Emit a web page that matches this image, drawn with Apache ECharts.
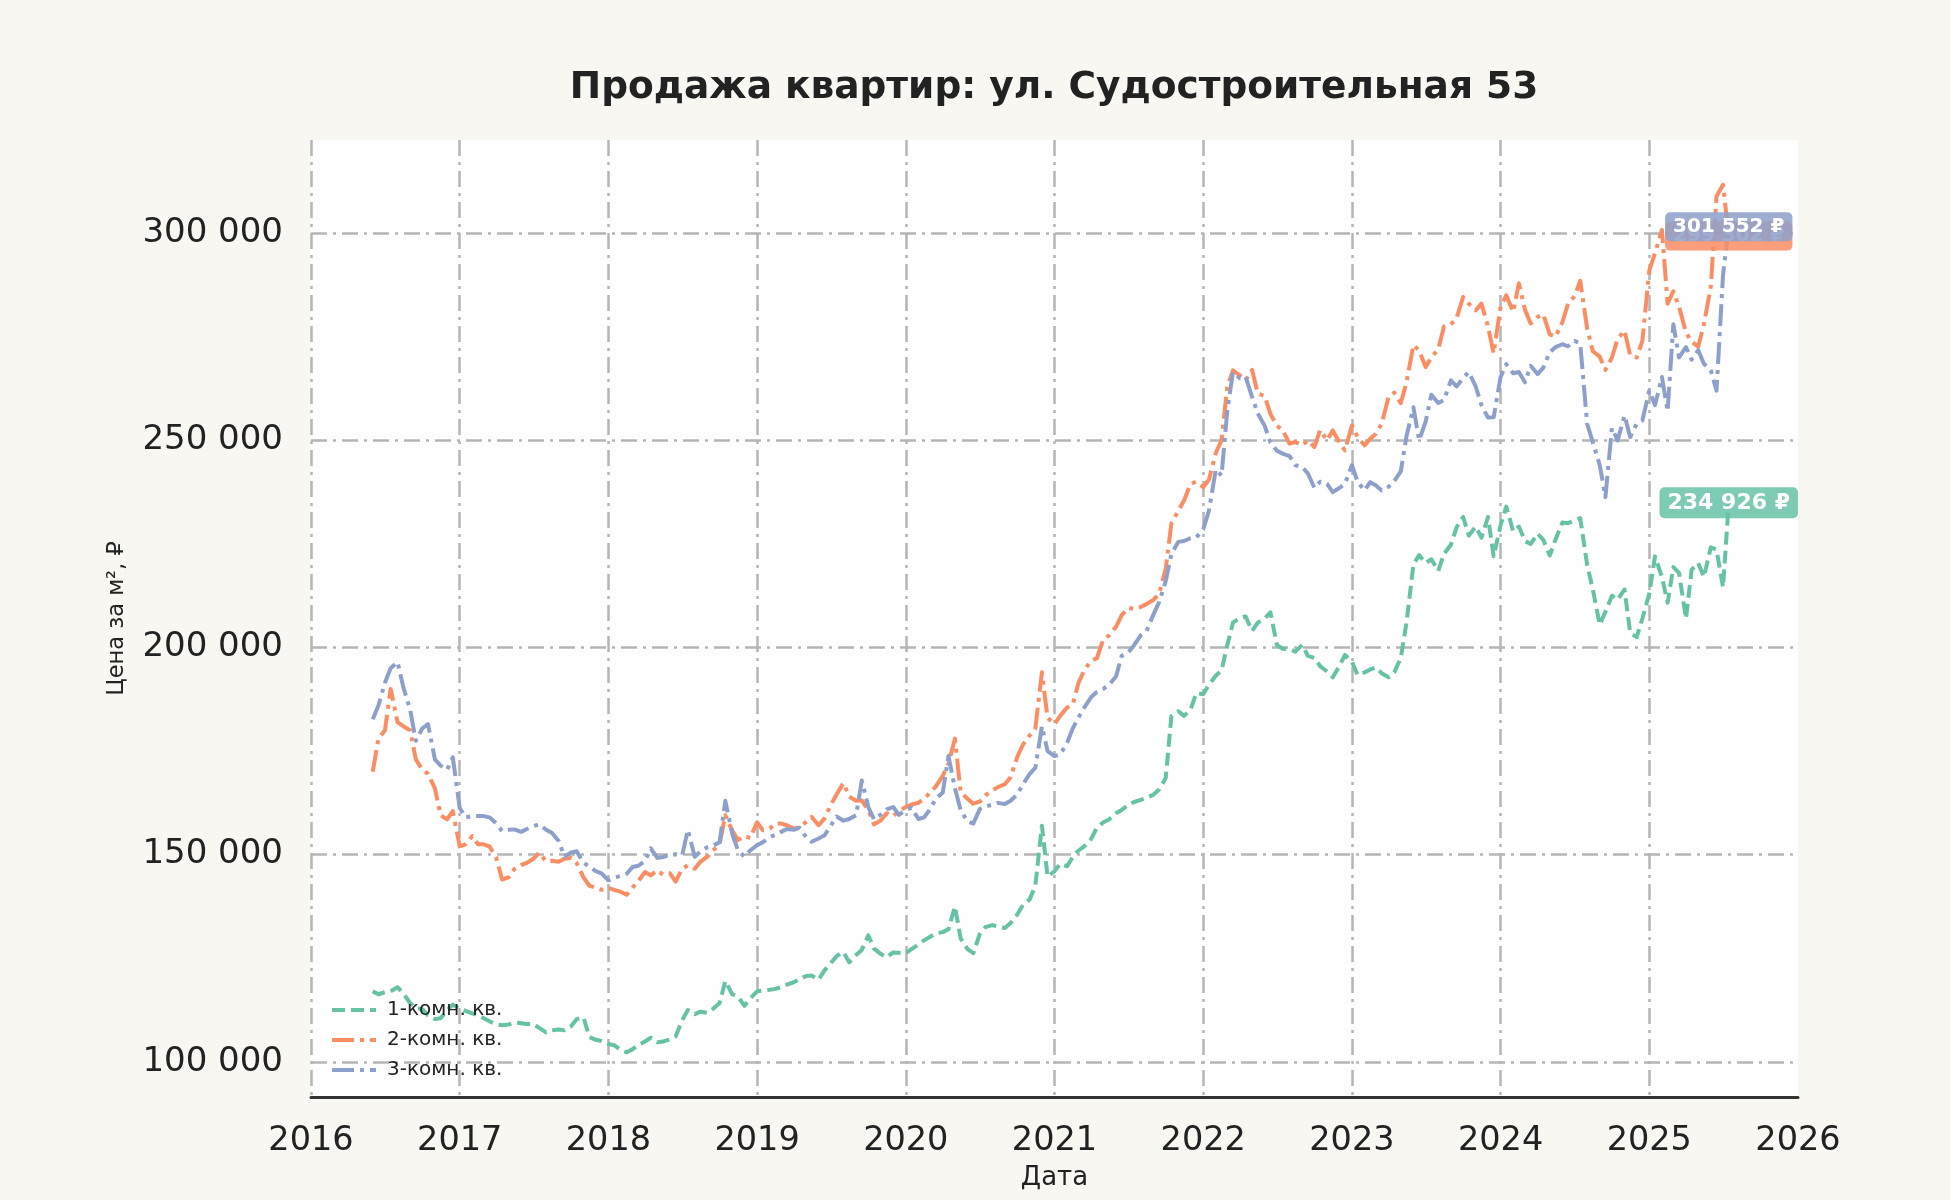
<!DOCTYPE html>
<html>
<head>
<meta charset="utf-8">
<title>Продажа квартир: ул. Судостроительная 53</title>
<script src="https://cdn.jsdelivr.net/npm/echarts@6/dist/echarts.min.js"></script>
<style>
  html, body { margin: 0; padding: 0; background: #f8f7f2; }
  #chart { width: 1950px; height: 1200px; }
</style>
</head>
<body>
<div id="chart"></div>
<script>
// даты наблюдений: 1-е и 15-е число месяца, июнь 2016 - июль 2025
var dates = [];
for (var y = 2016; y <= 2025; y++) {
  for (var m = 1; m <= 12; m++) {
    if ((y === 2016 && m < 6) || (y === 2025 && m > 7)) continue;
    var mm = (m < 10 ? '0' : '') + m;
    dates.push(y + '-' + mm + '-01', y + '-' + mm + '-15');
  }
}

var seriesNames = ['1-комн. кв.', '2-комн. кв.', '3-комн. кв.'];
var yearTicks = [2016, 2026];

// цена за м², 1-комн.
var room1 = [
  117000,116300,116800,117000,118000,116500,114200,113000,112700,111200,110300,110500,112500,113800,
  112800,112300,111700,111200,110500,109800,109000,108800,109000,109500,109300,109100,109100,108200,107100,107600,107800,107600,108500,110300,110700,106000,105300,105000,
  104300,104000,102800,102300,103000,104000,104900,105800,104700,104900,105400,106100,110000,112500,111500,112100,111800,112800,114200,119500,116300,115700,113500,115300,
  117000,117200,117400,117600,118000,118600,119200,119900,120700,120800,119800,122000,123800,125500,126500,124000,125800,127000,130500,127300,126000,125200,126400,126300,
  126200,127200,128300,129300,130200,131000,131300,132000,137500,129800,127200,126200,130800,132500,133000,132600,132300,133500,135500,137800,139200,142600,157000,144700,
  146000,147800,147200,149500,151000,152000,153800,156500,157800,158500,160000,160800,162000,162700,163200,163700,164500,165700,168500,183500,184600,183500,185000,189000,
  188700,191000,193200,194500,200500,206000,207100,207500,204000,206000,207000,208500,200600,199700,199600,199000,200600,198000,197500,195500,194200,192800,195500,198200,
  196600,193400,194000,194700,195200,193800,192800,194000,197500,206000,220000,222300,220400,221300,218500,222600,224800,229000,231500,227000,229200,226500,231500,222000,
  229500,234000,228000,229200,225700,225000,227500,226000,222200,226000,230200,230000,230700,231200,220000,214000,205500,208600,212500,211500,214000,203500,202500,207000,
  213000,222000,217000,210800,219400,218000,207000,218800,220400,217000,224200,223600,214500,234926
];

// цена за м², 2-комн.
var room2 = [
  170000,178000,180000,190000,182000,181000,180000,173000,170500,169500,166000,159500,158500,160500,
  152000,152500,154500,152500,152500,152000,149200,144000,144500,146500,147500,148000,149000,150500,148400,148500,148300,149000,149200,148000,144500,142500,142000,141500,
  142000,141500,141000,140300,142000,143600,145800,145000,146200,145200,145500,143500,146600,147400,146600,148300,149500,151000,152600,159500,155800,153500,154500,154000,
  157800,155900,156300,157500,157500,157100,156300,156500,157900,159100,157100,158700,162000,164500,167300,164000,163000,163100,160700,157300,158300,160000,159300,160500,
  161500,162100,162500,163500,165000,166500,169000,172000,178000,165000,163500,162300,162800,164300,165500,166300,167000,168700,173500,176500,178800,180500,194000,183000,
  181500,183500,185500,186300,191500,194500,196800,197400,202000,202900,205000,207800,209600,209300,209800,210500,211500,213000,219000,230000,233000,235500,239500,240000,
  238700,240500,247000,250000,262900,266900,265700,264500,267000,261300,260700,256400,253500,252500,249200,249600,248800,250000,248400,252500,250000,252400,249600,247600,
  253600,250800,248800,250400,251600,254000,260500,261500,259000,264000,273000,271700,267700,270000,272000,277500,278000,279500,284600,283000,281400,283000,277500,271000,
  282300,285000,281000,287900,281500,278200,279800,280400,275600,275000,278500,283000,284800,288500,277000,271500,270200,267000,270000,274500,276500,270500,270000,274000,
  291000,295200,300800,283000,286000,282300,276000,273800,272600,278000,287100,308900,311700,299302
];

// цена за м², 3-комн.
var room3 = [
  182700,186000,191500,195000,196500,190500,185000,177500,180500,181500,173000,171500,170500,173500,
  161300,159000,159300,159300,159300,159000,157500,155700,156000,156100,155500,156200,156900,157300,156000,155300,153300,149500,150500,150800,148000,147200,146000,145500,
  143800,144400,144900,145400,147000,147300,148500,151500,149200,149400,150000,150100,149800,156000,149500,150800,151800,152200,153000,163000,155000,151000,149500,151000,
  152300,153000,154200,154800,155500,156200,156000,156500,154300,153100,153900,154600,157000,159200,158200,158600,159500,167900,161500,158500,159700,160900,161500,159600,
  160800,161300,158600,159000,161000,163500,165000,173800,166000,160700,158000,157500,161000,161700,162000,162500,162200,163000,164500,166900,169500,171000,181000,175000,
  173800,174200,177000,180500,183100,185500,188000,189300,190000,191000,193000,198000,198800,200500,203000,204000,208000,211000,216000,222600,225500,225700,226400,226600,
  228500,233000,243000,241500,257000,266500,265000,265300,260500,256500,253500,249500,247500,246800,246200,244000,243600,242000,238500,240000,239500,237500,238500,239500,
  244000,240000,237900,239900,239100,237900,238800,240200,242500,251000,258000,250000,254500,261000,259000,259700,264500,263000,265000,266500,263000,258500,255500,255600,
  265300,268400,266200,266500,264000,268000,266000,267500,271300,272500,273200,272700,274000,273400,254000,249500,244000,236300,253000,250000,256000,250800,254000,254800,
  262000,258500,265300,257000,278000,270000,272500,269500,271800,268500,266900,262000,290000,301552
];

var FONT = 'DejaVu Sans';
var GRID_COLOR = '#b5b5b5';

function toYear(s) {
  var p = s.split('-');
  var yy = +p[0], start = Date.UTC(yy, 0, 1), end = Date.UTC(yy + 1, 0, 1);
  return yy + (Date.UTC(yy, +p[1] - 1, +p[2]) - start) / (end - start);
}

function fmt(v) {
  return String(Math.round(v)).replace(/\B(?=(\d{3})+(?!\d))/g, ' ');
}

function makeSeries(name, values, color, bg, dash, labelSize) {
  var pts = values.map(function (v, i) { return [toYear(dates[i]), v]; });
  var last = pts[pts.length - 1];
  return {
    name: name,
    type: 'line',
    data: pts,
    symbol: 'none',
    itemStyle: { color: color },
    lineStyle: { color: color, width: 4, type: dash, cap: 'butt', join: 'round' },
    markPoint: {
      symbol: 'circle',
      symbolSize: 0,
      silent: true,
      data: [{ coord: last, value: last[1] }],
      label: {
        show: true,
        position: 'inside',
        formatter: function (p) { return fmt(p.value) + ' ₽'; },
        color: '#fff',
        fontWeight: 'bold',
        fontSize: labelSize,
        fontFamily: FONT,
        backgroundColor: bg,
        padding: [5, 8, 4, 8],
        borderRadius: 5
      }
    }
  };
}

var chart = echarts.init(document.getElementById('chart'));
chart.setOption({
  backgroundColor: '#f8f7f2',
  animation: false,
  textStyle: { fontFamily: FONT },
  title: {
    text: 'Продажа квартир: ул. Судостроительная 53',
    left: 1049,
    top: 64,
    textAlign: 'center',
    textStyle: { fontSize: 37.5, fontWeight: 'bold', color: '#222', fontFamily: FONT }
  },
  grid: {
    left: 311, right: 152, top: 140, bottom: 103,
    show: true, backgroundColor: '#fefefe', borderWidth: 0,
    outerBoundsMode: 'none'
  },
  legend: {
    data: seriesNames,
    orient: 'vertical',
    left: 325,
    top: 995,
    itemWidth: 44,
    itemHeight: 14,
    itemGap: 10,
    itemStyle: { opacity: 0 },
    lineStyle: { width: 4 },
    textStyle: { fontSize: 20, color: '#222', fontFamily: FONT, padding: [0, 0, 0, 6] }
  },
  xAxis: {
    type: 'value',
    min: yearTicks[0],
    max: yearTicks[1],
    interval: 1,
    name: 'Дата',
    nameLocation: 'middle',
    nameGap: 68,
    nameTextStyle: { fontSize: 26, color: '#222', fontFamily: FONT },
    axisLine: { show: true, onZero: false, lineStyle: { color: '#333', width: 3 } },
    axisTick: { show: false },
    axisLabel: {
      fontSize: 33.5, color: '#222', margin: 27, fontFamily: FONT,
      formatter: function (v) { return String(v); }
    },
    splitLine: {
      show: true, showMaxLine: false,
      lineStyle: { color: GRID_COLOR, width: 2.5, type: [16, 6, 3, 6] }
    }
  },
  yAxis: {
    type: 'value',
    min: 91500,
    max: 322500,
    name: 'Цена за м², ₽',
    nameLocation: 'middle',
    nameGap: 182,
    nameTextStyle: { fontSize: 22.5, color: '#222', fontFamily: FONT },
    axisLine: { show: false },
    axisTick: { show: false },
    axisLabel: {
      fontSize: 34, color: '#222', margin: 28, fontFamily: FONT,
      showMinLabel: false, showMaxLabel: false,
      formatter: fmt
    },
    splitLine: {
      show: true, showMinLine: false, showMaxLine: false,
      lineStyle: { color: GRID_COLOR, width: 2.5, type: [16, 6, 3, 6] }
    }
  },
  series: [
    makeSeries(seriesNames[0], room1, '#66c2a5', 'rgba(102,194,165,0.85)', [13, 6], 22),
    makeSeries(seriesNames[1], room2, '#fc8d62', 'rgba(252,141,98,0.85)', [22, 6, 4, 6], 20),
    makeSeries(seriesNames[2], room3, '#8da0cb', 'rgba(141,160,203,0.85)', [22, 6, 4, 6], 20)
  ]
});
</script>
</body>
</html>
